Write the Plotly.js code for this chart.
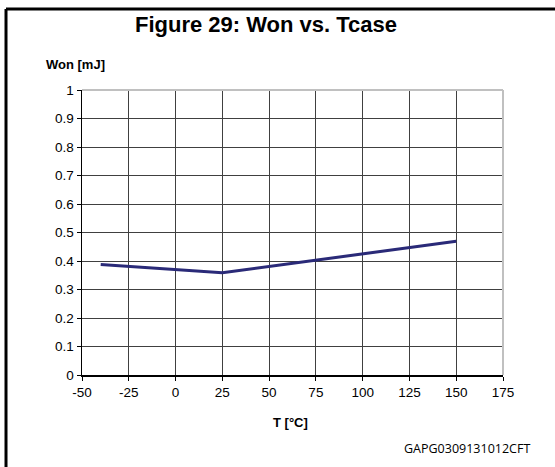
<!DOCTYPE html>
<html>
<head>
<meta charset="utf-8">
<script src="https://cdn.plot.ly/plotly-3.0.1.min.js"></script>
<style>
html,body{margin:0;padding:0;background:#fff;}
#chart{width:555px;height:467px;}
</style>
</head>
<body>
<div id="chart"></div>
<script>
// Data
var temperature = [-40, 25, 150];
var won = [0.388, 0.359, 0.469];
var xTicks = [-50, -25, 0, 25, 50, 75, 100, 125, 150, 175];
var yTicks = [0, 0.1, 0.2, 0.3, 0.4, 0.5, 0.6, 0.7, 0.8, 0.9, 1];
var titleText = 'Figure 29: Won vs. Tcase';
var yTitle = 'Won [mJ]';
var xTitle = 'T [°C]';
var footnote = 'GAPG0309131012CFT';

var trace = {
  x: temperature,
  y: won,
  type: 'scatter',
  mode: 'lines',
  line: {color: '#2a2a78', width: 3},
  hoverinfo: 'skip'
};

var tickFont = {family: 'Arial, "Liberation Sans", sans-serif', size: 13.5, color: '#000'};

var layout = {
  width: 555,
  height: 467,
  margin: {l: 82, r: 52, t: 90, b: 92, pad: 0},
  paper_bgcolor: '#fff',
  plot_bgcolor: '#fff',
  showlegend: false,
  xaxis: {
    range: [-50, 175],
    tickmode: 'array',
    tickvals: xTicks,
    ticktext: xTicks.map(String),
    ticks: 'outside',
    ticklen: 4,
    tickcolor: '#000',
    showgrid: true,
    gridcolor: '#404040',
    gridwidth: 1,
    zeroline: false,
    showline: true,
    linecolor: '#000',
    linewidth: 1.5,
    tickfont: tickFont,
    fixedrange: true
  },
  yaxis: {
    range: [0, 1],
    tickmode: 'array',
    tickvals: yTicks,
    ticktext: yTicks.map(String),
    ticks: 'outside',
    ticklen: 4,
    tickcolor: '#000',
    showgrid: true,
    gridcolor: '#404040',
    gridwidth: 1,
    zeroline: false,
    showline: true,
    linecolor: '#000',
    linewidth: 1.5,
    tickfont: tickFont,
    fixedrange: true
  },
  shapes: [
    {type: 'line', xref: 'paper', yref: 'paper', x0: 0, x1: 1, y0: 1, y1: 1, line: {color: '#c0c0c0', width: 2}},
    {type: 'line', xref: 'paper', yref: 'paper', x0: 1, x1: 1, y0: 0, y1: 1, line: {color: '#c0c0c0', width: 2}},
    {type: 'line', xref: 'paper', yref: 'paper', x0: -0.1805, x1: 1.13, y0: 1.2842, y1: 1.2842, line: {color: '#000', width: 3}},
    {type: 'line', xref: 'paper', yref: 'paper', x0: -0.1805, x1: -0.1805, y0: 1.2842, y1: -0.34, line: {color: '#000', width: 3}}
  ],
  annotations: [
    {text: '<b>' + titleText + '</b>', xref: 'paper', yref: 'paper', x: 0.437, y: 1.23,
     xanchor: 'center', yanchor: 'middle', showarrow: false,
     font: {family: 'Arial, "Liberation Sans", sans-serif', size: 22, color: '#000'}},
    {text: '<b>' + yTitle + '</b>', xref: 'paper', yref: 'paper', x: -0.0166, y: 1.091,
     xanchor: 'center', yanchor: 'middle', showarrow: false,
     font: {family: 'Arial, "Liberation Sans", sans-serif', size: 13, color: '#000'}},
    {text: '<b>' + xTitle + '</b>', xref: 'paper', yref: 'paper', x: 0.496, y: -0.165,
     xanchor: 'center', yanchor: 'middle', showarrow: false,
     font: {family: 'Arial, "Liberation Sans", sans-serif', size: 13, color: '#000'}},
    {text: footnote, xref: 'paper', yref: 'paper', x: 0.9145, y: -0.2596,
     xanchor: 'center', yanchor: 'middle', showarrow: false,
     font: {family: '"Open Sans", sans-serif', size: 12.5, color: '#000'}}
  ]
};

Plotly.newPlot('chart', [trace], layout, {displayModeBar: false, staticPlot: true});
</script>
</body>
</html>
